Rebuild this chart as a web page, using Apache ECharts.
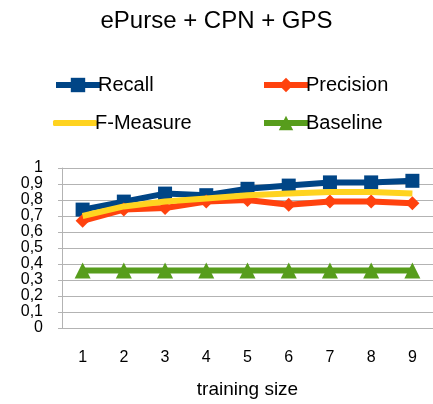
<!DOCTYPE html>
<html><head><meta charset="utf-8">
<script src="https://cdn.jsdelivr.net/npm/echarts@6/dist/echarts.min.js"></script>
<style>html,body{margin:0;padding:0;background:#fff}#c{width:433px;height:404px}</style>
</head><body><div id="c"></div>
<script>
const categories = ['1','2','3','4','5','6','7','8','9'];
const recall    = [0.74, 0.79, 0.84, 0.83, 0.87, 0.89, 0.91, 0.91, 0.92];
const precision = [0.67, 0.74, 0.75, 0.79, 0.80, 0.77, 0.79, 0.79, 0.78];
const fmeasure  = [0.70, 0.76, 0.79, 0.81, 0.83, 0.84, 0.85, 0.85, 0.84];
const baseline  = [0.36, 0.36, 0.36, 0.36, 0.36, 0.36, 0.36, 0.36, 0.36];
const yTicks = ['0','0,1','0,2','0,3','0,4','0,5','0,6','0,7','0,8','0,9','1'];

const FONT = 'Liberation Sans, Arial, sans-serif';
const grey = '#b3b3b3';
const chart = echarts.init(document.getElementById('c'), null, {renderer:'canvas'});
function leg(item, left, top, h){
  return {data:[item], left:left, top:top, itemWidth:44, itemHeight:h||18, itemGap:0,
    lineStyle:{width:6}, itemStyle:{borderWidth:0},
    textStyle:{fontFamily:FONT, fontSize:20, color:'#000', padding:[0,0,0,-7]}, selectedMode:false};
}
chart.setOption({
  animation:false,
  title:{text:'ePurse + CPN + GPS', left:'center', top:4,
    textStyle:{fontFamily:FONT, fontSize:24, fontWeight:'normal', color:'#000'}},
  legend:[leg('Recall',48,70), leg('Precision',256,70),
    leg({name:'F-Measure', icon:'roundRect'},48,108,6), leg('Baseline',256,108)],
  grid:{left:62, right:0, top:168, bottom:76, outerBoundsMode:'none', containLabel:false},
  xAxis:{type:'category', data:categories, name:'training size', nameLocation:'middle', nameGap:52,
    nameTextStyle:{fontFamily:FONT, fontSize:19, color:'#000'},
    axisLine:{lineStyle:{color:grey}}, axisTick:{length:6, lineStyle:{color:grey}},
    axisLabel:{fontFamily:FONT, fontSize:16, color:'#000', margin:22}},
  yAxis:{type:'value', min:0, max:1, interval:0.1,
    axisLine:{show:true, lineStyle:{color:grey}}, axisTick:{show:true, length:4, lineStyle:{color:grey}},
    splitLine:{lineStyle:{color:grey}},
    axisLabel:{fontFamily:FONT, fontSize:16, lineHeight:14, color:'#000', margin:19,
      showMinLabel:true, showMaxLabel:true, hideOverlap:false,
      formatter:(v)=>yTicks[Math.round(v*10)]}},
  series:[
    {name:'Recall', type:'line', data:recall, color:'#004586', symbol:'rect', symbolSize:14,
      lineStyle:{width:6}, z:3},
    {name:'Precision', type:'line', data:precision, color:'#ff420e', symbol:'diamond', symbolSize:14,
      lineStyle:{width:6}, z:4},
    {name:'F-Measure', type:'line', data:fmeasure, color:'#ffd320', symbol:'none',
      lineStyle:{width:6}, z:5},
    {name:'Baseline', type:'line', data:baseline, color:'#579d1c', symbol:'triangle', symbolSize:16,
      lineStyle:{width:6}, z:3}
  ]
});
</script></body></html>
